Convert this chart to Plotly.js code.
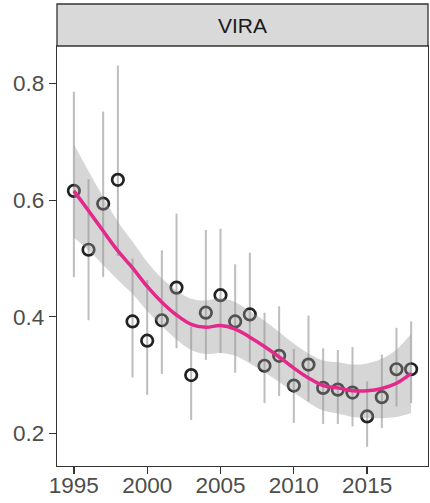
<!DOCTYPE html>
<html>
<head>
<meta charset="utf-8">
<script src="https://cdn.plot.ly/plotly-3.0.1.min.js"></script>
<style>
  html, body { margin: 0; padding: 0; background: #fff; }
  #chart { width: 430px; height: 503px; }
</style>
</head>
<body>
<div id="chart"></div>
<script>
// Yearly estimates with their confidence limits
const years = [1995, 1996, 1997, 1998, 1999, 2000, 2001, 2002, 2003, 2004, 2005, 2006,
               2007, 2008, 2009, 2010, 2011, 2012, 2013, 2014, 2015, 2016, 2017, 2018];
const estimate = [0.616, 0.515, 0.594, 0.635, 0.392, 0.359, 0.394, 0.450, 0.300, 0.407, 0.437, 0.392,
                  0.404, 0.316, 0.333, 0.282, 0.318, 0.278, 0.275, 0.270, 0.229, 0.262, 0.310, 0.310];
const ciUpper = [0.786, 0.636, 0.752, 0.831, 0.500, 0.463, 0.514, 0.577, 0.383, 0.549, 0.551, 0.490,
                 0.510, 0.407, 0.418, 0.345, 0.402, 0.346, 0.343, 0.348, 0.289, 0.335, 0.381, 0.392];
const ciLower = [0.468, 0.394, 0.468, 0.504, 0.296, 0.266, 0.302, 0.346, 0.223, 0.326, 0.338, 0.304,
                 0.323, 0.252, 0.264, 0.218, 0.255, 0.216, 0.216, 0.212, 0.177, 0.209, 0.246, 0.252];

// Smoothed trend and its confidence band
const trend = [0.616, 0.582, 0.547, 0.513, 0.484, 0.452, 0.425, 0.403, 0.387, 0.382, 0.385, 0.379,
               0.365, 0.349, 0.331, 0.312, 0.295, 0.282, 0.278, 0.273, 0.273, 0.277, 0.286, 0.303];
const bandUpper = [0.696, 0.650, 0.605, 0.563, 0.529, 0.494, 0.466, 0.445, 0.431, 0.428, 0.432, 0.425,
                   0.410, 0.393, 0.374, 0.354, 0.337, 0.325, 0.322, 0.318, 0.320, 0.328, 0.344, 0.371];
const bandLower = [0.536, 0.514, 0.489, 0.463, 0.439, 0.410, 0.384, 0.361, 0.343, 0.336, 0.338, 0.333,
                   0.320, 0.305, 0.288, 0.270, 0.253, 0.239, 0.234, 0.228, 0.226, 0.226, 0.228, 0.235];

const panelLabel = 'VIRA';
const xTicks = [1995, 2000, 2005, 2010, 2015];
const yTicks = [0.2, 0.4, 0.6, 0.8];

const font = 'Liberation Sans, Arial, sans-serif';

const traces = [
  // vertical confidence intervals
  {
    x: years, y: estimate, type: 'scatter', mode: 'markers',
    marker: { color: 'rgba(0,0,0,0)', size: 1 },
    error_y: {
      type: 'data', symmetric: false,
      array: ciUpper.map((u, i) => u - estimate[i]),
      arrayminus: ciLower.map((l, i) => estimate[i] - l),
      color: '#bdbdbd', thickness: 2, width: 0
    },
    hoverinfo: 'skip', showlegend: false
  },
  // yearly estimates
  {
    x: years, y: estimate, type: 'scatter', mode: 'markers',
    marker: { symbol: 'circle-open', size: 11.5, color: '#222222', line: { width: 2.7, color: '#222222' } },
    showlegend: false
  },
  // confidence band of the smooth
  {
    x: years, y: bandLower, type: 'scatter', mode: 'lines',
    line: { width: 0, shape: 'spline', smoothing: 1, color: 'rgba(0,0,0,0)' },
    hoverinfo: 'skip', showlegend: false
  },
  {
    x: years, y: bandUpper, type: 'scatter', mode: 'lines', fill: 'tonexty',
    fillcolor: 'rgba(153,153,153,0.4)',
    line: { width: 0, shape: 'spline', smoothing: 1, color: 'rgba(0,0,0,0)' },
    hoverinfo: 'skip', showlegend: false
  },
  // smoothed trend
  {
    x: years, y: trend, type: 'scatter', mode: 'lines',
    line: { color: '#e3298b', width: 3.5, shape: 'spline', smoothing: 1 },
    showlegend: false
  }
];

const axisCommon = {
  showgrid: false, zeroline: false,
  showline: true, mirror: true, linecolor: '#333333', linewidth: 1.3,
  ticks: 'outside', ticklen: 7, tickwidth: 1.3, tickcolor: '#333333',
  tickfont: { family: font, size: 22.5, color: '#4d4d4d' }
};

const layout = {
  width: 430, height: 503,
  margin: { l: 57, r: 2, t: 46, b: 37 },
  paper_bgcolor: '#ffffff', plot_bgcolor: '#ffffff',
  font: { family: font },
  xaxis: Object.assign({}, axisCommon, {
    range: [1993.85, 2019.15], tickmode: 'array', tickvals: xTicks,
    ticktext: xTicks.map(String), ticklabelstandoff: -8
  }),
  yaxis: Object.assign({}, axisCommon, {
    range: [0.144, 0.8645], tickmode: 'array', tickvals: yTicks,
    ticktext: yTicks.map(v => v.toFixed(1))
  }),
  shapes: [{
    type: 'rect', xref: 'paper', yref: 'paper',
    x0: 0, x1: 1, y0: 1, y1: 1.1,
    fillcolor: '#d9d9d9', line: { color: '#333333', width: 1.3 }
  }],
  annotations: [{
    xref: 'paper', yref: 'paper', x: 0.5, y: 1.048,
    xanchor: 'center', yanchor: 'middle', showarrow: false,
    text: panelLabel, font: { family: font, size: 21, color: '#1a1a1a' }
  }]
};

Plotly.newPlot('chart', traces, layout, { displayModeBar: false, staticPlot: true });
</script>
</body>
</html>
